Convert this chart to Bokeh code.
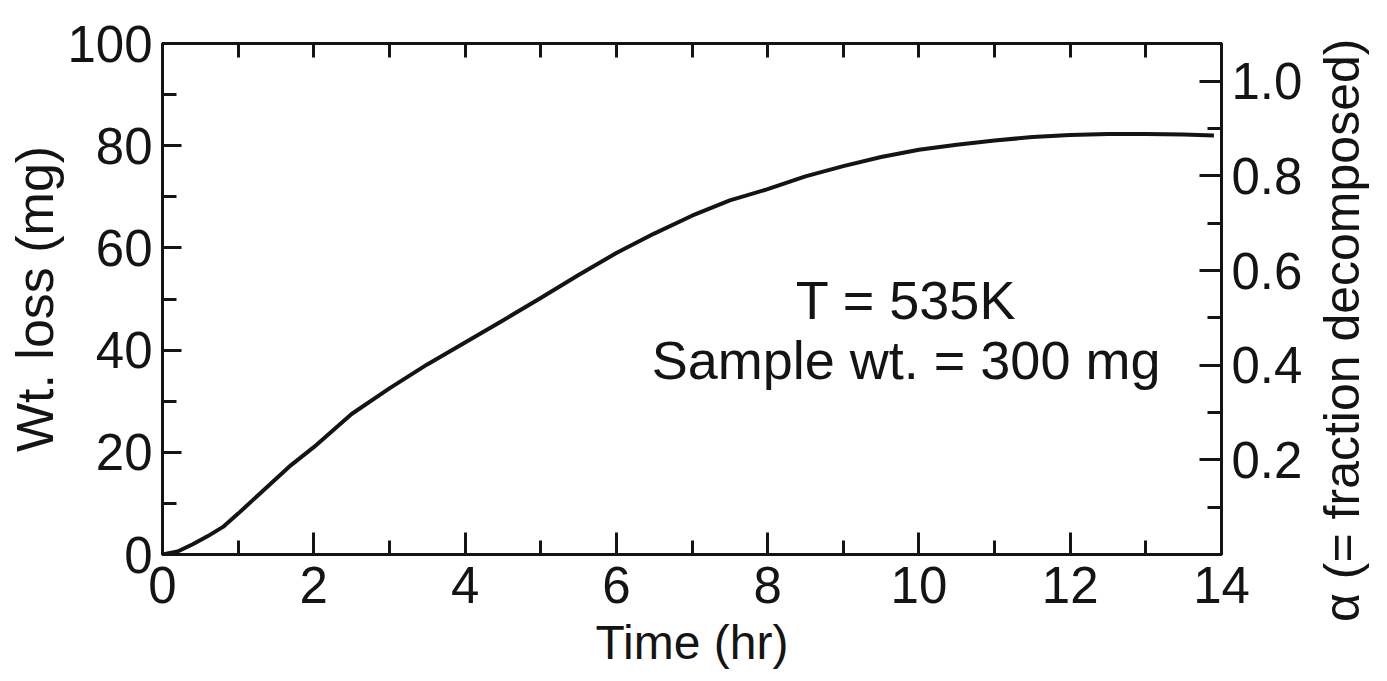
import math
from bokeh.plotting import figure
from bokeh.layouts import row
from bokeh.models import (Range1d, LinearAxis, SingleIntervalTicker, FixedTicker,
                          Label, PrintfTickFormatter)
from bokeh.core.properties import value
from bokeh.embed import file_html
from bokeh.resources import INLINE

# ---- data ----
time_hr = [0.0, 0.2, 0.4, 0.6, 0.8, 1.0, 1.3, 1.7, 2.0, 2.5, 3.0, 3.5, 4.0, 4.5,
           5.0, 5.5, 6.0, 6.5, 7.0, 7.5, 8.0, 8.5, 9.0, 9.5, 10.0, 10.5, 11.0,
           11.5, 12.0, 12.5, 13.0, 13.5, 13.9]
wt_loss_mg = [0.0, 0.6, 2.0, 3.6, 5.4, 8.0, 12.1, 17.5, 21.0, 27.5, 32.5, 37.2,
              41.5, 45.8, 50.2, 54.7, 59.0, 62.8, 66.3, 69.3, 71.5, 74.0, 76.0,
              77.8, 79.2, 80.2, 81.0, 81.7, 82.1, 82.3, 82.3, 82.2, 82.0]
alpha_ticks = [0.2, 0.4, 0.6, 0.8, 1.0]
alpha_minor_ticks = [0.1, 0.2, 0.3, 0.4, 0.5, 0.6, 0.7, 0.8, 0.9, 1.0]
annotation_lines = ["T = 535K", "Sample wt. = 300 mg"]
x_label = "Time (hr)"
y_label = "Wt. loss (mg)"
y2_label = "\u03b1 (= fraction decomposed)"

FONT = "Liberation Sans"
INK = "#141414"
H = 673

p = figure(width=1305, height=H, output_backend="svg", toolbar_location=None,
           x_range=Range1d(0, 14), y_range=Range1d(0, 100),
           min_border_left=162, min_border_right=82, min_border_top=43,
           min_border_bottom=119)
p.extra_y_ranges = {"alpha": Range1d(0, 1.08)}
p.xgrid.visible = False
p.ygrid.visible = False
p.outline_line_color = INK
p.outline_line_width = 3
p.background_fill_color = "white"
p.border_fill_color = "white"


def style_axis(ax, major_in, minor_in, font_size="51px"):
    ax.axis_line_color = INK
    ax.axis_line_width = 3
    ax.major_tick_line_color = INK
    ax.major_tick_line_width = 3
    ax.minor_tick_line_color = INK
    ax.minor_tick_line_width = 3
    ax.major_tick_in = major_in
    ax.major_tick_out = 0
    ax.minor_tick_in = minor_in
    ax.minor_tick_out = 0
    ax.major_label_text_font = FONT
    ax.major_label_text_font_size = font_size
    ax.major_label_text_color = INK
    ax.axis_label_text_font = FONT
    ax.axis_label_text_font_style = "normal"
    ax.axis_label_text_color = INK


# bottom axis
xb = p.xaxis[0]
xb.ticker = SingleIntervalTicker(interval=2, num_minor_ticks=2)
style_axis(xb, 22, 14)
xb.major_label_standoff = 12
xb.axis_label = x_label
xb.axis_label_text_font_size = "48px"
xb.axis_label_standoff = 10

# left axis
yl = p.yaxis[0]
yl.ticker = SingleIntervalTicker(interval=20, num_minor_ticks=2)
style_axis(yl, 19, 14)
yl.major_label_standoff = 10
yl.axis_label = y_label
yl.axis_label_text_font_size = "52px"
yl.axis_label_standoff = 0

# top axis (ticks only)
xt = LinearAxis(ticker=SingleIntervalTicker(interval=1, num_minor_ticks=0))
style_axis(xt, 14, 0, font_size="0px")
xt.major_label_text_color = None
xt.major_label_standoff = 0
p.add_layout(xt, "above")

# right axis (alpha)
yr = LinearAxis(y_range_name="alpha",
                ticker=FixedTicker(ticks=alpha_ticks, minor_ticks=alpha_minor_ticks),
                formatter=PrintfTickFormatter(format="%.1f"))
style_axis(yr, 22, 14)
yr.major_label_standoff = 10
p.add_layout(yr, "right")

# curve
p.line(time_hr, wt_loss_mg, line_color=INK, line_width=4, line_join="round")

# annotations
p.add_layout(Label(x=9.83, y=49.9, text=annotation_lines[0], text_align="center",
                   text_baseline="alphabetic", text_font=FONT, text_font_size="54px",
                   text_color=INK))
p.add_layout(Label(x=9.83, y=38.0, text=annotation_lines[1], text_align="center",
                   text_baseline="alphabetic", text_font=FONT, text_font_size="54px",
                   text_color=INK))

# strip to the right carrying the alpha-axis title (reads bottom to top)
q = figure(width=66, height=H, output_backend="svg", toolbar_location=None,
           x_range=Range1d(0, 1), y_range=Range1d(0, 1),
           x_axis_location=None, y_axis_location=None,
           min_border_left=0, min_border_right=0, min_border_top=0,
           min_border_bottom=0)
q.frame_align = False
q.xgrid.visible = False
q.ygrid.visible = False
q.outline_line_color = None
q.background_fill_color = "white"
q.border_fill_color = "white"
q.text(x=[0.55], y=[0.51], text=[y2_label], angle=math.pi / 2,
       text_align="center", text_baseline="middle", text_font=value(FONT),
       text_font_size="50px", text_color=INK)

layout = row(p, q, spacing=0)
open("out.html", "w").write(file_html(layout, INLINE))
